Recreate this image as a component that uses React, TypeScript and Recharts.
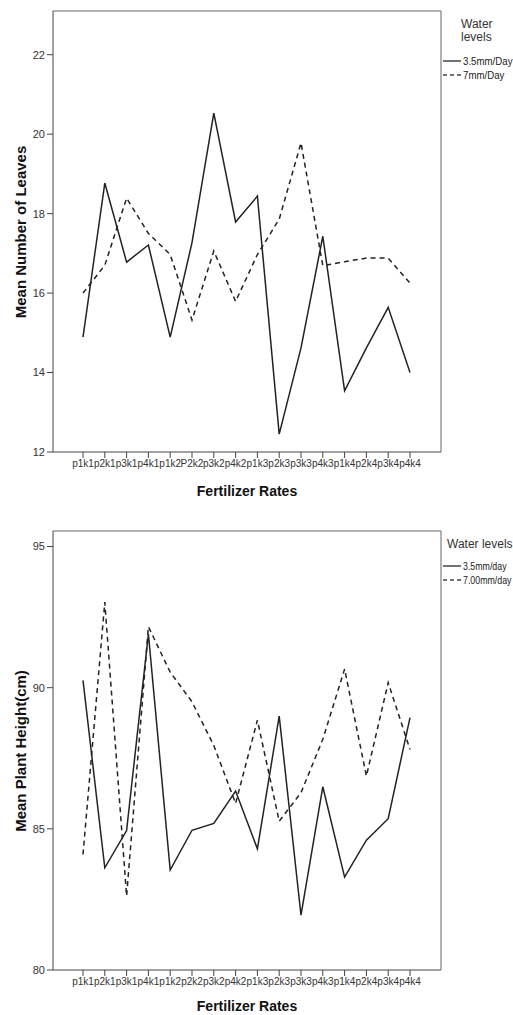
import { LineChart, Line, XAxis, YAxis } from 'recharts'

const leafCats = ['p1k1', 'p2k1', 'p3k1', 'p4k1', 'p1k2', 'P2k2', 'p3k2', 'p4k2', 'p1k3', 'p2k3', 'p3k3', 'p4k3', 'p1k4', 'p2k4', 'p3k4', 'p4k4']
const heightCats = ['p1k1', 'p2k1', 'p3k1', 'p4k1', 'p1k2', 'p2k2', 'p3k2', 'p4k2', 'p1k3', 'p2k3', 'p3k3', 'p4k3', 'p1k4', 'p2k4', 'p3k4', 'p4k4']

const leaves35 = [14.89, 18.77, 16.78, 17.21, 14.89, 17.27, 20.53, 17.79, 18.44, 12.45, 14.62, 17.43, 13.54, 14.62, 15.64, 14.0]
const leaves7 = [16.0, 16.7, 18.39, 17.5, 16.97, 15.32, 17.06, 15.79, 16.97, 17.86, 19.78, 16.69, 16.79, 16.88, 16.88, 16.25]

const height35 = [90.26, 83.62, 84.94, 91.9, 83.54, 84.95, 85.19, 86.34, 84.29, 88.99, 81.94, 86.49, 83.29, 84.6, 85.36, 88.94]
const height7 = [84.09, 93.03, 82.62, 92.16, 90.55, 89.5, 87.95, 85.9, 88.85, 85.27, 86.28, 88.17, 90.66, 86.87, 90.18, 87.81]

const leafTicks = [12, 14, 16, 18, 20, 22]
const heightTicks = [80, 85, 90, 95]

const font = '"Liberation Sans", Arial, sans-serif'
const axisColor = '#444'

const leafData = leafCats.map((c, i) => ({ cat: c, a: leaves35[i], b: leaves7[i] }))
const heightData = heightCats.map((c, i) => ({ cat: c, a: height35[i], b: height7[i] }))

// plotTop / plotBottom are in the panel's own pixels
function Panel({ data, domain, ticks, yTitle, legendTitle, names, height, plotTop, plotBottom, titleLeft, titleTop, itemTop, xTitleGap, squeeze }) {
  return (
    <div style={{ position: 'relative', width: 513, height, overflow: 'hidden', fontFamily: font }}>
      <LineChart
        width={513}
        height={height}
        data={data}
        margin={{ top: plotTop - 1, right: 71, bottom: height - plotBottom - 40, left: 13 }}
      >
        <XAxis
          dataKey="cat"
          height={40}
          interval={0}
          padding={{ left: 30, right: 31 }}
          tickSize={6}
          stroke={axisColor}
          tick={{ fill: '#333', fontSize: 10, fontFamily: font }}
        />
        <XAxis xAxisId="frame" dataKey="cat" orientation="top" height={1} tick={false} tickLine={false} stroke="#666" />
        <YAxis
          type="number"
          domain={domain}
          ticks={ticks}
          width={40}
          allowDataOverflow
          tickSize={6}
          stroke={axisColor}
          tick={{ fill: '#333', fontSize: 11, fontFamily: font }}
        />
        <YAxis yAxisId="frame" orientation="right" width={1} tick={false} tickLine={false} stroke="#666" />
        <Line dataKey="a" stroke="#222" strokeWidth={1.5} dot={false} isAnimationActive={false} />
        <Line dataKey="b" stroke="#222" strokeWidth={1.5} strokeDasharray="5 4" dot={false} isAnimationActive={false} />
      </LineChart>
      <div style={{ position: 'absolute', left: 20, top: (plotTop + plotBottom) / 2, transform: 'translate(-50%, -50%) rotate(-90deg)', fontWeight: 'bold', fontSize: 15, whiteSpace: 'nowrap', color: '#111' }}>
        {yTitle}
      </div>
      <div style={{ position: 'absolute', left: 247, top: plotBottom + xTitleGap, transform: 'translate(-50%, -50%)', fontWeight: 'bold', fontSize: 14, lineHeight: '15px', whiteSpace: 'nowrap', color: '#111' }}>
        Fertilizer Rates
      </div>
      <div style={{ position: 'absolute', left: titleLeft, top: titleTop, fontSize: 12, color: '#333', lineHeight: '13px', whiteSpace: 'nowrap' }}>
        {legendTitle}
      </div>
      {names.map((n, i) => (
        <div key={n} style={{ position: 'absolute', left: 443, top: itemTop + i * 14, height: 12, display: 'flex', alignItems: 'center', fontSize: 11, color: '#222', whiteSpace: 'nowrap' }}>
          <svg width={18} height={4} style={{ marginRight: 2 }}>
            <line x1={0} y1={2} x2={18} y2={2} stroke="#444" strokeWidth={1.5} strokeDasharray={i === 1 ? '4 3' : undefined} />
          </svg>
          <span style={{ display: 'inline-block', transform: `scaleX(${squeeze})`, transformOrigin: 'left center' }}>{n}</span>
        </div>
      ))}
    </div>
  )
}

export default function App() {
  return (
    <div style={{ position: 'absolute', left: 0, top: 0, width: 513, height: 1015, background: '#fff' }}>
      <Panel
        data={leafData}
        domain={[12, 23.1]}
        ticks={leafTicks}
        yTitle="Mean Number of Leaves"
        legendTitle={<>Water<br />levels</>}
        names={['3.5mm/Day', '7mm/Day']}
        height={507}
        plotTop={11}
        plotBottom={452}
        titleLeft={461}
        titleTop={18}
        itemTop={55}
        xTitleGap={39}
        squeeze={0.88}
      />
      <Panel
        data={heightData}
        domain={[80, 95.55]}
        ticks={heightTicks}
        yTitle="Mean Plant Height(cm)"
        legendTitle="Water levels"
        names={['3.5mm/day', '7.00mm/day']}
        height={508}
        plotTop={24}
        plotBottom={463}
        titleLeft={447}
        titleTop={31}
        itemTop={53}
        xTitleGap={36}
        squeeze={0.8}
      />
    </div>
  )
}
